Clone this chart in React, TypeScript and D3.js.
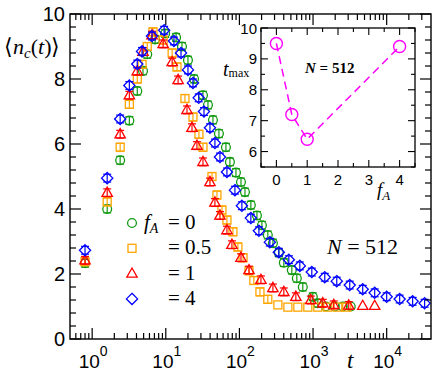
import React from "react";
import * as d3 from "d3";

// ---------- data ----------
const T_GREEN = [0.8, 1.6, 2.4, 3.2, 4.1, 4.9, 5.6, 7.15, 9.8, 13.8, 16.6, 20, 24.2, 32, 37.4, 43.7, 52.7, 65.6, 74.3, 89.7, 105, 119, 143, 173, 202, 243, 285, 343, 401, 515, 602, 726, 992, 1160, 1489, 1972, 2532, 3250];
const N_GREEN = [2.33, 4.0, 5.5, 6.72, 7.63, 8.25, 8.76, 9.22, 9.4, 9.28, 9.0, 8.58, 8.0, 7.5, 7.2, 6.74, 6.32, 5.9, 5.45, 5.12, 4.83, 4.52, 4.12, 3.8, 3.5, 3.2, 2.95, 2.65, 2.35, 2.12, 1.87, 1.6, 1.3, 1.1, 1.0, 1.0, 1.0, 1.0];

const T_ORANGE = [0.8, 1.6, 2.4, 3.2, 4.1, 4.76, 5.6, 6.7, 9.2, 12.2, 14.2, 18.2, 23.4, 28.2, 32, 42.4, 49.5, 57.9, 67.7, 81.6, 95.4, 112, 135, 157, 190, 243, 333, 455, 621, 849, 1160, 1585, 2166, 2869];
const N_ORANGE = [2.38, 4.22, 5.9, 7.22, 8.0, 8.45, 9.0, 9.45, 9.2, 8.8, 8.37, 7.4, 6.83, 6.3, 5.9, 5.0, 4.43, 3.97, 3.66, 3.3, 2.83, 2.5, 2.1, 1.8, 1.45, 1.22, 1.05, 0.98, 0.98, 0.98, 0.98, 0.98, 0.98, 0.98];

const T_RED = [0.8, 1.6, 2.4, 3.2, 4.1, 4.9, 6.5, 9.2, 12.2, 14.7, 19.4, 22.7, 26.5, 32, 39.8, 46.5, 54.4, 67.7, 79.1, 105, 135, 196, 285, 401, 584, 932, 1356, 1911, 3052, 4727, 6876];
const N_RED = [2.42, 4.5, 6.3, 7.5, 8.24, 8.84, 9.35, 9.08, 8.52, 7.97, 7.05, 6.5, 5.95, 5.45, 4.83, 4.2, 3.8, 3.35, 2.9, 2.5, 2.12, 1.82, 1.57, 1.45, 1.3, 1.2, 1.1, 1.05, 1.03, 1.02, 1.02];

const T_BLUE = [0.8, 1.6, 2.4, 3.2, 4.1, 4.76, 6.5, 9.5, 12.9, 16.1, 20, 23.4, 28, 33, 39.8, 46.5, 54.4, 67.7, 86.9, 108, 143, 184, 259, 343, 469, 661, 962, 1443, 2099, 3150, 4727, 6876, 10000, 15010, 22520, 32760];
const N_BLUE = [2.73, 4.95, 6.77, 7.8, 8.46, 8.85, 9.32, 9.5, 9.17, 8.8, 8.28, 7.88, 7.42, 7.0, 6.5, 6.03, 5.6, 5.14, 4.58, 4.1, 3.72, 3.33, 2.98, 2.67, 2.44, 2.25, 2.06, 1.9, 1.78, 1.66, 1.53, 1.42, 1.3, 1.23, 1.16, 1.1];

// error bars are drawn up to this t for each series
const ERR_LIMIT = [1200, 300, 4000, 1e6];
const ERR = 0.12;

const LEGEND_VALUES = ["0", "0.5", "1", "4"];

const INSET_F = [0, 0.5, 1, 4];
const INSET_TMAX = [9.5, 7.2, 6.4, 9.4];

const Y_TICKS = [0, 2, 4, 6, 8, 10];
const X_EXPONENTS = [0, 1, 2, 3, 4];
const INSET_Y_TICKS = [6, 7, 8, 9, 10];
const INSET_X_TICKS = [0, 1, 2, 3, 4];

// ---------- styles ----------
const COLORS = ["#119a11", "#ffa500", "#ff0000", "#0000ff"];
const SHAPES = ["circle", "square", "triangle", "diamond"];
const MAGENTA = "#ff00ff";
const SANS = "'Liberation Sans', Arial, Helvetica, sans-serif";
const SERIF = "'Liberation Serif', 'Times New Roman', serif";

const W = 442;
const H = 377;

function Marker({ shape, x, y, color }: { shape: string; x: number; y: number; color: string }) {
  const common = { fill: "none", stroke: color, strokeWidth: 1.3 };
  if (shape === "circle") return <circle cx={x} cy={y} r={4.4} {...common} />;
  if (shape === "square") return <rect x={x - 4} y={y - 4} width={8} height={8} {...common} />;
  if (shape === "triangle")
    return <polygon points={`${x},${y - 5.6} ${x + 5.2},${y + 3.6} ${x - 5.2},${y + 3.6}`} {...common} />;
  return <polygon points={`${x},${y - 5.6} ${x + 5.6},${y} ${x},${y + 5.6} ${x - 5.6},${y}`} {...common} />;
}

export default function App() {
  const x = d3.scaleLog().domain([0.5, 40000]).range([70, 431]);
  const y = d3.scaleLinear().domain([0, 10]).range([339, 14]);
  const ix = d3.scaleLinear().domain([-0.5, 4.5]).range([261, 415]);
  const iy = d3.scaleLinear().domain([5.5, 10]).range([167, 28]);

  const series = [
    { t: T_GREEN, n: N_GREEN },
    { t: T_ORANGE, n: N_ORANGE },
    { t: T_RED, n: N_RED },
    { t: T_BLUE, n: N_BLUE },
  ];

  const [x0, x1] = x.range();
  const [y0, y1] = y.range(); // y0 bottom, y1 top

  // minor ticks
  const yMinor = d3.range(0, 10.001, 0.4).filter((v) => !Y_TICKS.some((m) => Math.abs(m - v) < 1e-6));
  const xMinor: number[] = [];
  for (let e = -1; e <= 4; e++) {
    for (let k = 2; k <= 9; k++) {
      const v = k * Math.pow(10, e);
      if (v > 0.5 && v < 40000) xMinor.push(v);
    }
  }
  const iyMinor = d3.range(5.5, 10, 1);
  const ixMinor = d3.range(-0.5, 4.6, 1);

  const line = d3
    .line<number>()
    .x((_, i) => ix(INSET_F[i]))
    .y((d) => iy(d));

  return (
    <svg
      width={W}
      height={H}
      style={{ position: "absolute", left: 0, top: 0, background: "#fff" }}
      xmlns="http://www.w3.org/2000/svg"
    >
      <rect x={0} y={0} width={W} height={H} fill="#fff" />

      {/* data */}
      {series.map((s, si) => (
        <g key={si}>
          {s.t.map((t, i) => {
            const cx = x(t);
            const cy = y(s.n[i]);
            const hasErr = t <= ERR_LIMIT[si] && !(si === 2 && i >= s.t.length - 2);
            const ya = y(s.n[i] - ERR);
            const yb = y(s.n[i] + ERR);
            return (
              <g key={i}>
                {hasErr && (
                  <g stroke={COLORS[si]} strokeWidth={1.2}>
                    <line x1={cx} x2={cx} y1={ya} y2={yb} />
                    <line x1={cx - 4} x2={cx + 4} y1={ya} y2={ya} />
                    <line x1={cx - 4} x2={cx + 4} y1={yb} y2={yb} />
                  </g>
                )}
                <Marker shape={SHAPES[si]} x={cx} y={cy} color={COLORS[si]} />
              </g>
            );
          })}
        </g>
      ))}

      {/* main frame */}
      <rect x={x0} y={y1} width={x1 - x0} height={y0 - y1} fill="none" stroke="#000" strokeWidth={1.4} />

      {/* ticks */}
      <g stroke="#000" strokeWidth={1.2}>
        {Y_TICKS.map((v) => (
          <g key={"ym" + v}>
            <line x1={x0} x2={x0 + 11} y1={y(v)} y2={y(v)} />
            <line x1={x1} x2={x1 - 11} y1={y(v)} y2={y(v)} />
          </g>
        ))}
        {yMinor.map((v) => (
          <g key={"yn" + v}>
            <line x1={x0} x2={x0 + 6} y1={y(v)} y2={y(v)} />
            <line x1={x1} x2={x1 - 6} y1={y(v)} y2={y(v)} />
          </g>
        ))}
        {X_EXPONENTS.map((e) => {
          const px = x(Math.pow(10, e));
          return (
            <g key={"xm" + e}>
              <line x1={px} x2={px} y1={y0} y2={y0 - 11} />
              <line x1={px} x2={px} y1={y1} y2={y1 + 11} />
            </g>
          );
        })}
        {xMinor.map((v) => {
          const px = x(v);
          return (
            <g key={"xn" + v}>
              <line x1={px} x2={px} y1={y0} y2={y0 - 6} />
              <line x1={px} x2={px} y1={y1} y2={y1 + 6} />
            </g>
          );
        })}
      </g>

      {/* y tick labels */}
      <g fontFamily={SANS} fontSize={20} textAnchor="end" fill="#000">
        {Y_TICKS.map((v) => (
          <text key={v} x={65} y={y(v) + 7}>
            {v}
          </text>
        ))}
      </g>

      {/* x tick labels */}
      <g fontFamily={SANS} fontSize={19} textAnchor="middle" fill="#000">
        {X_EXPONENTS.map((e) => (
          <text key={e} x={x(Math.pow(10, e)) + 1} y={368}>
            10
            <tspan dy={-12} fontSize={14}>
              {e}
            </tspan>
          </text>
        ))}
      </g>

      {/* axis labels */}
      <text x={347} y={368} fontFamily={SERIF} fontStyle="italic" fontSize={23}>
        t
      </text>
      <text x={4} y={54} fontFamily={SERIF} fontSize={22}>
        ⟨<tspan fontStyle="italic">n</tspan>
        <tspan fontStyle="italic" fontSize={15} dy={4}>c</tspan>
        <tspan dy={-4}>(</tspan>
        <tspan fontStyle="italic">t</tspan>)⟩
      </text>

      {/* legend */}
      {LEGEND_VALUES.map((lbl, i) => {
        const ly = 223 + i * 25.3;
        return (
          <g key={lbl}>
            <Marker shape={SHAPES[i]} x={132} y={ly} color={COLORS[i]} />
            {i === 0 && (
              <text x={144} y={ly + 6} fontFamily={SERIF} fontSize={21} fontStyle="italic">
                f<tspan fontSize={14} dy={4}>A</tspan>
              </text>
            )}
            <text x={168} y={ly + 6} fontFamily={SERIF} fontSize={21}>
              = {lbl}
            </text>
          </g>
        );
      })}

      {/* N = 512 */}
      <text x={327} y={254} fontFamily={SERIF} fontSize={22}>
        <tspan fontStyle="italic">N</tspan> = 512
      </text>

      {/* ---------- inset ---------- */}
      <rect x={261} y={28} width={154} height={139} fill="#fff" stroke="#000" strokeWidth={1.3} />
      <g stroke="#000" strokeWidth={1.1}>
        {INSET_Y_TICKS.map((v) => (
          <g key={"iy" + v}>
            <line x1={261} x2={268} y1={iy(v)} y2={iy(v)} />
            <line x1={415} x2={408} y1={iy(v)} y2={iy(v)} />
          </g>
        ))}
        {iyMinor.map((v) => (
          <g key={"iyn" + v}>
            <line x1={261} x2={265} y1={iy(v)} y2={iy(v)} />
            <line x1={415} x2={411} y1={iy(v)} y2={iy(v)} />
          </g>
        ))}
        {INSET_X_TICKS.map((v) => (
          <g key={"ix" + v}>
            <line x1={ix(v)} x2={ix(v)} y1={167} y2={160} />
            <line x1={ix(v)} x2={ix(v)} y1={28} y2={35} />
          </g>
        ))}
        {ixMinor.map((v) => (
          <g key={"ixn" + v}>
            <line x1={ix(v)} x2={ix(v)} y1={167} y2={163} />
            <line x1={ix(v)} x2={ix(v)} y1={28} y2={32} />
          </g>
        ))}
      </g>
      <g fontFamily={SANS} fontSize={15} fill="#000">
        {INSET_Y_TICKS.map((v) => (
          <text key={v} x={257} y={iy(v) + 5.5} textAnchor="end">
            {v}
          </text>
        ))}
        {INSET_X_TICKS.map((v) => (
          <text key={v} x={ix(v)} y={185} textAnchor="middle">
            {v}
          </text>
        ))}
      </g>
      <path d={line(INSET_TMAX) || ""} fill="none" stroke={MAGENTA} strokeWidth={1.5} strokeDasharray="8,5" />
      {INSET_TMAX.map((v, i) => (
        <circle key={i} cx={ix(INSET_F[i])} cy={iy(v)} r={6} fill="none" stroke={MAGENTA} strokeWidth={1.4} />
      ))}
      <text x={305} y={73} fontFamily={SERIF} fontSize={15} fontWeight="bold">
        <tspan fontStyle="italic">N</tspan> = 512
      </text>
      <text x={223} y={76} fontFamily={SERIF} fontSize={20}>
        <tspan fontStyle="italic">t</tspan>
        <tspan fontSize={12} dy={1}>max</tspan>
      </text>
      <text x={377} y={196} fontFamily={SERIF} fontSize={19} fontStyle="italic">
        f<tspan fontSize={13} dy={4}>A</tspan>
      </text>
    </svg>
  );
}
